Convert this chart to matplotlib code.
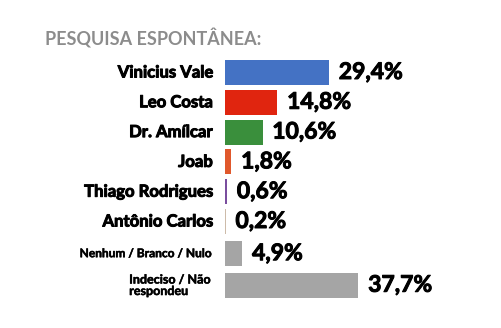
import numpy as np
import matplotlib.pyplot as plt
import matplotlib.patheffects as pe

# poll data (spontaneous)
nomes = ["Vinicius Vale", "Leo Costa", "Dr. Amílcar", "Joab", "Thiago Rodrigues",
         "Antônio Carlos", "Nenhum / Branco / Nulo", "Indeciso / Não\nrespondeu"]
valores = [29.4, 14.8, 10.6, 1.8, 0.6, 0.2, 4.9, 37.7]
rotulos = ["29,4%", "14,8%", "10,6%", "1,8%", "0,6%", "0,2%", "4,9%", "37,7%"]
cores = ["#4472C4", "#E0250F", "#3A8F3C", "#E0582C", "#7A4E9E", "#CDBBA9", "#A5A5A5", "#A5A5A5"]

W, H = 501, 328
fig = plt.figure(figsize=(W / 100, H / 100), dpi=100)
fig.patch.set_facecolor("white")

px_per_pct = 3.54
row_px = 29.8
xmax = 45
# last two rows sit a little further down
ypos = np.arange(len(nomes)) + np.array([0, 0, 0, 0, 0, 0, 0.08, 0.14])
ylo, yhi = -0.5, ypos[-1] + 0.5
top_px = 72.5 - 0.5 * row_px
ax = fig.add_axes([225 / W, 1 - (top_px + (yhi - ylo) * row_px) / H,
                   xmax * px_per_pct / W, (yhi - ylo) * row_px / H])
ax.barh(ypos, valores, height=0.84, color=cores)
ax.set_xlim(0, xmax)
ax.set_ylim(yhi, ylo)
ax.axis("off")

fam = ["Lato", "DejaVu Sans"]
# thin stroke to get a heavier look
grosso = [pe.withStroke(linewidth=0.7, foreground="black")]
fino = [pe.withStroke(linewidth=0.35, foreground="black")]
for i, (n, v, r) in enumerate(zip(nomes, valores, rotulos)):
    y = ypos[i]
    if i == 6:
        ax.annotate(n, (0, y), xytext=(-10, 0), textcoords="offset points",
                    ha="right", va="center", fontsize=8.6, fontweight="bold", family=fam,
                    path_effects=fino)
    elif i == 7:
        ax.annotate(n, (0, y), xytext=(-69, 0), textcoords="offset points",
                    ha="left", va="center", fontsize=9, fontweight="bold", family=fam,
                    linespacing=0.95, path_effects=fino)
    else:
        ax.annotate(n, (0, y), xytext=(-9, 0), textcoords="offset points",
                    ha="right", va="center", fontsize=12, fontweight="bold", family=fam,
                    path_effects=grosso)
    ax.annotate(r, (v, y), xytext=(7, 0), textcoords="offset points",
                ha="left", va="center", fontsize=16.5, fontweight="bold", family=fam,
                path_effects=grosso)

fig.text(45 / W, 1 - 38 / H, "PESQUISA ESPONTÂNEA:", ha="left", va="center",
         fontsize=13, fontweight="bold", color="#8C8C8C", family=fam)

fig.savefig("out.png", dpi=100)
